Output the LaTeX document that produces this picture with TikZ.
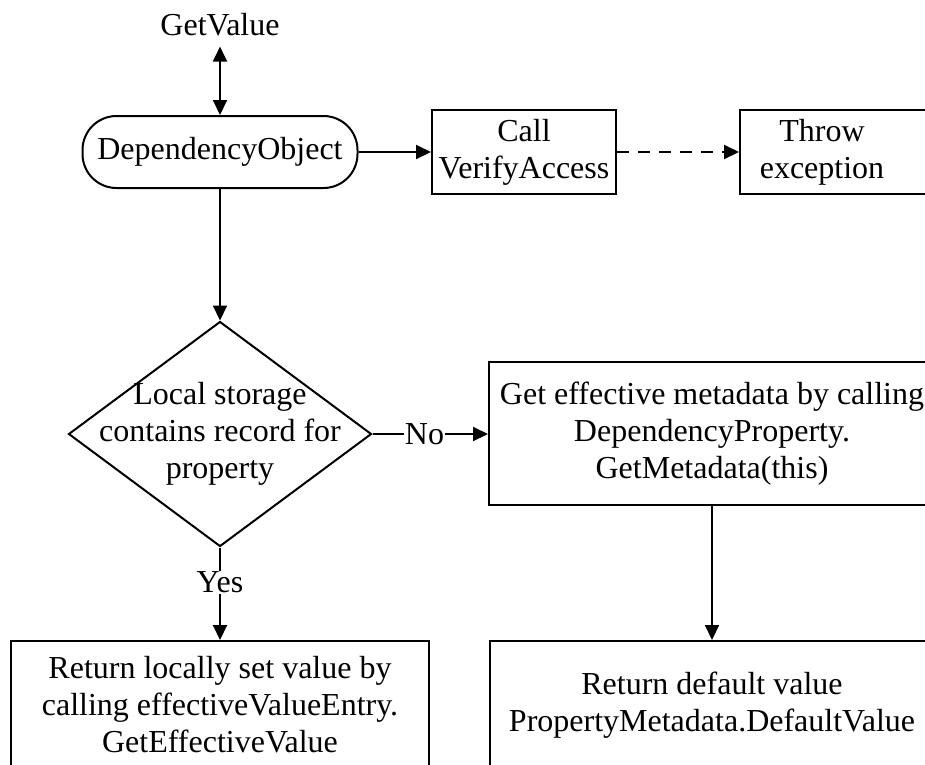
\documentclass[tikz,border=0pt]{standalone}
\usepackage{fontspec}
\setmainfont{Liberation Serif}
\usetikzlibrary{arrows.meta,shapes.geometric}
\begin{document}
\begin{tikzpicture}[x=1pt,y=-1pt,
  every node/.style={font=\fontsize{32}{37}\selectfont, align=center},
  box/.style={draw, line width=2pt, inner sep=0pt},
  link/.style={line width=2pt, -{Triangle[length=15pt,width=14pt]}},
  tag/.style={fill=white, inner sep=1pt}]
\useasboundingbox (0,0) rectangle (925,764);
\clip (0,0) rectangle (925,764);

% entry point and the object receiving the call
\node[inner sep=0pt] (get) at (220,25) {GetValue};
\node[box, rounded corners=34pt, minimum width=275pt, minimum height=72pt]
  (dobj) at (220,152) {DependencyObject};

% access check branch
\node[box, minimum width=184pt, minimum height=84pt] (call) at (524,152) {Call\\VerifyAccess};
\node[box, minimum width=260pt, minimum height=84pt,
  label={[xshift=-48pt, align=center]center:{Throw\\exception}}] (throw) at (870,152) {};

% decision on local storage
\node[box, shape=diamond, minimum width=303pt, minimum height=225pt,
  label={[align=center]center:{Local storage\\contains record for\\property}}] (dia) at (220,434) {};

\node[box, minimum width=446pt, minimum height=143pt] (meta) at (712,433.5)
  {Get effective metadata by calling\\DependencyProperty.\\GetMetadata(this)};

% results
\node[box, minimum width=418pt, minimum height=128pt] (ret) at (220,705)
  {Return locally set value by\\calling effectiveValueEntry.\\GetEffectiveValue};
\node[box, minimum width=444pt, minimum height=128pt] (def) at (712,705)
  {Return default value\\PropertyMetadata.DefaultValue};

% connectors
\draw[line width=2pt, {Triangle[length=15pt,width=14pt]}-{Triangle[length=15pt,width=14pt]}]
  ([yshift=-10pt]get.south) -- (dobj.north);
\draw[link] (dobj) -- (call);
\draw[link, dash pattern=on 12pt off 9pt] (call) -- (throw);
\draw[link] (dobj) -- (dia);
\draw[link] (dia.east) -- node[tag, pos=0.45] {No} (dia.east -| meta.west);
\draw[link] (dia.south) -- node[tag, pos=0.38] {Yes} (ret.north);
\draw[link] (meta.south) -- (def.north);
\end{tikzpicture}
\end{document}
